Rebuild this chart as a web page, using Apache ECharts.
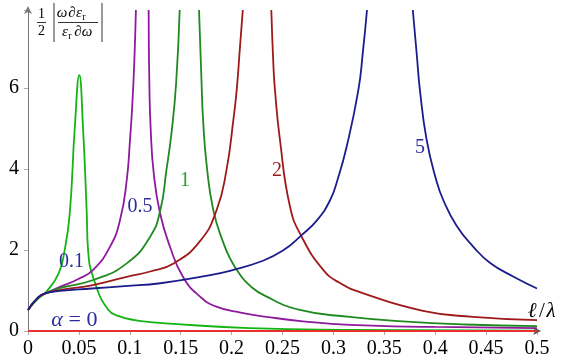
<!DOCTYPE html>
<html>
<head>
<meta charset="utf-8">
<script src="https://cdn.jsdelivr.net/npm/echarts@6/dist/echarts.min.js"></script>
<style>
  html, body { margin: 0; padding: 0; background: #fff; }
  #main { width: 565px; height: 362px; }
</style>
</head>
<body>
<div id="main"></div>
<script>
// values, [l/lambda, value]; null breaks the line at the pole
const alpha0 = [[0, 0], [0.5, 0]]
const alpha01 = [[0, 0.52], [0.01, 0.8], [0.017, 0.94], [0.03, 1.42], [0.036, 2.0], [0.041, 2.9], [0.046, 5.04],
  [0.0504, 6.32], [0.054, 5.04], [0.0576, 2.99], [0.059, 2.0], [0.066, 1.18], [0.079, 0.52], [0.09, 0.36],
  [0.105, 0.27], [0.12, 0.22], [0.135, 0.19], [0.218, 0.07], [0.316, 0.03], [0.5, 0.01]]
const alpha05 = [[0, 0.52], [0.01, 0.83], [0.017, 0.93], [0.0314, 1.09], [0.049, 1.28], [0.064, 1.51],
  [0.0805, 2.08], [0.0904, 2.74], [0.097, 3.73], [0.1002, 4.72], [0.1025, 5.6], [0.1045, 6.7], [0.106, 7.93],
  [0.112, null],
  [0.1185, 7.93], [0.1192, 6.12], [0.1205, 5.0], [0.1235, 3.9], [0.1297, 2.91], [0.1395, 2.08], [0.1526, 1.32],
  [0.169, 0.85], [0.185, 0.6], [0.21, 0.45], [0.2345, 0.35], [0.27, 0.24], [0.316, 0.15], [0.4, 0.1], [0.5, 0.07]]
const alpha1 = [[0, 0.52], [0.01, 0.83], [0.017, 0.93], [0.031, 1.06], [0.064, 1.26], [0.097, 1.67], [0.12, 2.33],
  [0.13, 2.99], [0.136, 3.98], [0.141, 4.9], [0.1455, 6.12], [0.149, 7.93], [0.158, null],
  [0.168, 7.93], [0.1705, 6.12], [0.172, 5.21], [0.1755, 4.1], [0.182, 2.99], [0.192, 2.17], [0.1984, 1.8],
  [0.208, 1.4], [0.218, 1.12], [0.232, 0.88], [0.267, 0.52], [0.316, 0.35], [0.372, 0.23],
  [0.43, 0.16], [0.5, 0.12]]
const alpha2 = [[0, 0.52], [0.01, 0.83], [0.017, 0.93], [0.031, 1.01], [0.0625, 1.13], [0.097, 1.34], [0.12, 1.47],
  [0.143, 1.67], [0.169, 2.22], [0.1853, 2.99], [0.195, 3.98], [0.2017, 5.21], [0.205, 5.95], [0.208, 6.94],
  [0.211, 7.93], [0.225, null],
  [0.239, 7.93], [0.241, 6.6], [0.2426, 5.95], [0.2475, 4.72], [0.2574, 3.07], [0.2688, 2.33], [0.29, 1.51],
  [0.306, 1.19], [0.3294, 0.93], [0.388, 0.5], [0.437, 0.35], [0.5, 0.27]]
const alpha5 = [[0, 0.52], [0.01, 0.83], [0.017, 0.93], [0.031, 0.99], [0.0625, 1.05], [0.095, 1.11], [0.13, 1.18],
  [0.179, 1.38], [0.2, 1.5], [0.228, 1.71], [0.25, 1.98], [0.2688, 2.37], [0.284, 2.74], [0.2967, 3.23],
  [0.304, 3.73], [0.313, 4.55], [0.3245, 5.95], [0.329, 6.9], [0.333, 7.93], [0.355, null],
  [0.378, 7.93], [0.382, 6.8], [0.385, 5.95], [0.3916, 4.72], [0.401, 3.73], [0.408, 3.23], [0.421, 2.6],
  [0.4375, 2.08], [0.454, 1.68], [0.477, 1.34], [0.5, 1.05]]

const serif = 'Liberation Serif'
const navyText = '#2b2b9e'

function curve (name, data, color) {
  return {
    name: name,
    type: 'line',
    data: data,
    showSymbol: false,
    smooth: 0.5,
    connectNulls: false,
    lineStyle: { color: color, width: 1.8 },
    itemStyle: { color: color }
  }
}

function txt (x, y, text, color, size, style) {
  return {
    type: 'text',
    x: x,
    y: y,
    z: 100,
    style: {
      text: text,
      fill: color,
      fontFamily: serif,
      fontSize: size,
      fontStyle: style || 'normal',
      align: 'center',
      verticalAlign: 'middle'
    }
  }
}

function seg (x1, y1, x2, y2) {
  return { type: 'line', z: 100, shape: { x1: x1, y1: y1, x2: x2, y2: y2 }, style: { stroke: '#000', lineWidth: 0.8 } }
}

const myChart = echarts.init(document.getElementById('main'))
const option = {
  animation: false,
  grid: { left: 28, right: 28, top: 10, bottom: 31 },
  xAxis: {
    type: 'value',
    min: 0,
    max: 0.5,
    interval: 0.05,
    splitLine: { show: false },
    axisLine: { lineStyle: { color: '#555', width: 1 }, symbol: ['none', 'arrow'], symbolSize: [6, 8], symbolOffset: [0, 4] },
    axisTick: { length: 4, lineStyle: { color: '#aaa' } },
    axisLabel: { color: '#000', fontFamily: serif, fontSize: 20, margin: 8 }
  },
  yAxis: {
    type: 'value',
    min: 0,
    max: 7.93,
    interval: 2,
    splitLine: { show: false },
    axisLine: { show: true, lineStyle: { color: '#777', width: 1 }, symbol: ['none', 'arrow'], symbolSize: [6, 8], symbolOffset: [0, 4] },
    axisTick: { length: 4, lineStyle: { color: '#aaa' } },
    axisLabel: {
      color: '#000', fontFamily: serif, fontSize: 20, margin: 9,
      formatter: function (v) { return v % 2 === 0 ? String(v) : '' }
    }
  },
  series: [
    curve('0.1', alpha01, '#14b414'),
    curve('0.5', alpha05, '#8e1a9e'),
    curve('1', alpha1, '#1f8a1f'),
    curve('2', alpha2, '#9e1a1a'),
    curve('5', alpha5, '#1c1c8c'),
    Object.assign(curve('0', alpha0, '#e8312f'), { z: 5 })
  ],
  graphic: [
    txt(57, 320, 'α', navyText, 22, 'italic'),
    txt(83, 320, '= 0', navyText, 22),
    txt(71.5, 262, '0.1', navyText, 20),
    txt(140, 207, '0.5', navyText, 20),
    txt(185, 181, '1', '#2aa02a', 20),
    txt(277, 171, '2', '#a01c1c', 20),
    txt(420, 148, '5', navyText, 20),
    txt(532, 311, 'ℓ', '#000', 21, 'italic'),
    txt(542, 311, '/', '#000', 21),
    txt(551, 311, 'λ', '#000', 21, 'italic'),
    // y axis title: 1/2 |omega d eps_r / eps_r d omega|
    txt(41.5, 14, '1', '#000', 14),
    seg(37, 22.5, 46, 22.5),
    txt(41.5, 31, '2', '#000', 14),
    seg(54, 3, 54, 42),
    seg(102, 3, 102, 42),
    txt(62, 13, 'ω', '#000', 15, 'italic'),
    txt(72, 13, '∂', '#000', 15, 'italic'),
    txt(79, 13, 'ε', '#000', 15, 'italic'),
    txt(84, 17, 'r', '#000', 10),
    seg(58, 22.5, 98, 22.5),
    txt(65, 32, 'ε', '#000', 15, 'italic'),
    txt(70, 36, 'r', '#000', 10),
    txt(78, 32, '∂', '#000', 15, 'italic'),
    txt(87, 32, 'ω', '#000', 15, 'italic')
  ]
}
myChart.setOption(option)
</script>
</body>
</html>
